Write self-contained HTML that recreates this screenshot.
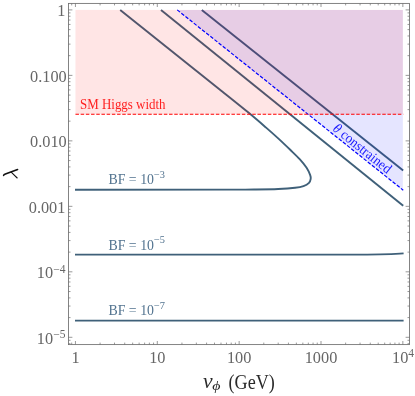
<!DOCTYPE html>
<html><head><meta charset="utf-8"><title>plot</title>
<style>html,body{margin:0;padding:0;background:#fff}svg{display:block;will-change:transform}text{font-family:"Liberation Serif",serif}</style>
</head><body>
<svg width="415" height="396" viewBox="0 0 415 396">
<rect width="415" height="396" fill="#fff"/>
<g fill="none" stroke="#3f6079" stroke-width="1.9" stroke-linecap="butt" stroke-linejoin="round">
<path d="M120.2 9.9 L220 89.7  C224.68 93.47 240.42 105.98 248.10 112.30 C255.78 118.62 261.08 123.25 266.10 127.60 C271.12 131.95 274.18 134.70 278.20 138.40 C282.22 142.10 286.58 146.30 290.20 149.80 C293.82 153.30 297.17 156.40 299.90 159.40 C302.63 162.40 304.88 165.18 306.60 167.80 C308.32 170.42 309.52 173.25 310.20 175.10 C310.88 176.95 310.90 177.62 310.70 178.90 C310.50 180.18 310.20 181.60 309.00 182.80 C307.80 184.00 305.82 185.27 303.50 186.10 C301.18 186.93 299.32 187.32 295.10 187.80 C290.88 188.28 285.03 188.72 278.20 189.00 C271.37 189.28 262.13 189.39 254.10 189.50 C246.07 189.61 234.02 189.62 230.00 189.65 L75.0 189.7"/>
<path d="M161 9.9 L403.2 205.7"/>
<path d="M201.8 9.9 L403.2 170.5"/>
<path d="M75.0 254.6 L360 254.6 Q390 254.5 403.6 253.4"/>
<path d="M75.0 320.6 L403.6 320.6"/>
</g>
<path d="M177.20 9.90 L402.85 9.90 L402.85 190.20 Z" fill="#0000ff" fill-opacity="0.1"/>
<rect x="75.45" y="9.90" width="327.40" height="104.30" fill="#ff0000" fill-opacity="0.1"/>
<path d="M177.20 9.90 L403.25 190.20" stroke="#0000ff" stroke-width="1.2" stroke-dasharray="3.6 1.7" fill="none"/>
<path d="M75.45 114.20 L403.25 114.20" stroke="#ff0000" stroke-width="1.15" stroke-dasharray="3.5 1.7" fill="none"/>
<g stroke="#6e6e6e" stroke-width="0.85" fill="none">
<rect x="68.50" y="3.40" width="341.00" height="341.20"/>
</g>
<g stroke="#6e6e6e" stroke-width="0.7" fill="none">
<path d="M71.70 344.60 v-2.00 M71.70 3.40 v2.00 M75.45 344.60 v-3.60 M75.45 3.40 v3.60 M100.09 344.60 v-2.00 M100.09 3.40 v2.00 M114.50 344.60 v-2.00 M114.50 3.40 v2.00 M124.73 344.60 v-2.00 M124.73 3.40 v2.00 M132.66 344.60 v-2.00 M132.66 3.40 v2.00 M139.14 344.60 v-2.00 M139.14 3.40 v2.00 M144.62 344.60 v-2.00 M144.62 3.40 v2.00 M149.37 344.60 v-2.00 M149.37 3.40 v2.00 M153.55 344.60 v-2.00 M153.55 3.40 v2.00 M157.30 344.60 v-3.60 M157.30 3.40 v3.60 M181.94 344.60 v-2.00 M181.94 3.40 v2.00 M196.35 344.60 v-2.00 M196.35 3.40 v2.00 M206.58 344.60 v-2.00 M206.58 3.40 v2.00 M214.51 344.60 v-2.00 M214.51 3.40 v2.00 M220.99 344.60 v-2.00 M220.99 3.40 v2.00 M226.47 344.60 v-2.00 M226.47 3.40 v2.00 M231.22 344.60 v-2.00 M231.22 3.40 v2.00 M235.40 344.60 v-2.00 M235.40 3.40 v2.00 M239.15 344.60 v-3.60 M239.15 3.40 v3.60 M263.79 344.60 v-2.00 M263.79 3.40 v2.00 M278.20 344.60 v-2.00 M278.20 3.40 v2.00 M288.43 344.60 v-2.00 M288.43 3.40 v2.00 M296.36 344.60 v-2.00 M296.36 3.40 v2.00 M302.84 344.60 v-2.00 M302.84 3.40 v2.00 M308.32 344.60 v-2.00 M308.32 3.40 v2.00 M313.07 344.60 v-2.00 M313.07 3.40 v2.00 M317.25 344.60 v-2.00 M317.25 3.40 v2.00 M321.00 344.60 v-3.60 M321.00 3.40 v3.60 M345.64 344.60 v-2.00 M345.64 3.40 v2.00 M360.05 344.60 v-2.00 M360.05 3.40 v2.00 M370.28 344.60 v-2.00 M370.28 3.40 v2.00 M378.21 344.60 v-2.00 M378.21 3.40 v2.00 M384.69 344.60 v-2.00 M384.69 3.40 v2.00 M390.17 344.60 v-2.00 M390.17 3.40 v2.00 M394.92 344.60 v-2.00 M394.92 3.40 v2.00 M399.10 344.60 v-2.00 M399.10 3.40 v2.00 M402.85 344.60 v-3.60 M402.85 3.40 v3.60 "/>
<path d="M68.50 343.65 h2.00 M409.50 343.65 h-2.00 M68.50 340.30 h2.00 M409.50 340.30 h-2.00 M68.50 337.30 h3.90 M409.50 337.30 h-3.90 M68.50 317.59 h2.00 M409.50 317.59 h-2.00 M68.50 306.06 h2.00 M409.50 306.06 h-2.00 M68.50 297.88 h2.00 M409.50 297.88 h-2.00 M68.50 291.53 h2.00 M409.50 291.53 h-2.00 M68.50 286.35 h2.00 M409.50 286.35 h-2.00 M68.50 281.96 h2.00 M409.50 281.96 h-2.00 M68.50 278.17 h2.00 M409.50 278.17 h-2.00 M68.50 274.82 h2.00 M409.50 274.82 h-2.00 M68.50 271.82 h3.90 M409.50 271.82 h-3.90 M68.50 252.11 h2.00 M409.50 252.11 h-2.00 M68.50 240.58 h2.00 M409.50 240.58 h-2.00 M68.50 232.40 h2.00 M409.50 232.40 h-2.00 M68.50 226.05 h2.00 M409.50 226.05 h-2.00 M68.50 220.87 h2.00 M409.50 220.87 h-2.00 M68.50 216.48 h2.00 M409.50 216.48 h-2.00 M68.50 212.69 h2.00 M409.50 212.69 h-2.00 M68.50 209.34 h2.00 M409.50 209.34 h-2.00 M68.50 206.34 h3.90 M409.50 206.34 h-3.90 M68.50 186.63 h2.00 M409.50 186.63 h-2.00 M68.50 175.10 h2.00 M409.50 175.10 h-2.00 M68.50 166.92 h2.00 M409.50 166.92 h-2.00 M68.50 160.57 h2.00 M409.50 160.57 h-2.00 M68.50 155.39 h2.00 M409.50 155.39 h-2.00 M68.50 151.00 h2.00 M409.50 151.00 h-2.00 M68.50 147.21 h2.00 M409.50 147.21 h-2.00 M68.50 143.86 h2.00 M409.50 143.86 h-2.00 M68.50 140.86 h3.90 M409.50 140.86 h-3.90 M68.50 121.15 h2.00 M409.50 121.15 h-2.00 M68.50 109.62 h2.00 M409.50 109.62 h-2.00 M68.50 101.44 h2.00 M409.50 101.44 h-2.00 M68.50 95.09 h2.00 M409.50 95.09 h-2.00 M68.50 89.91 h2.00 M409.50 89.91 h-2.00 M68.50 85.52 h2.00 M409.50 85.52 h-2.00 M68.50 81.73 h2.00 M409.50 81.73 h-2.00 M68.50 78.38 h2.00 M409.50 78.38 h-2.00 M68.50 75.38 h3.90 M409.50 75.38 h-3.90 M68.50 55.67 h2.00 M409.50 55.67 h-2.00 M68.50 44.14 h2.00 M409.50 44.14 h-2.00 M68.50 35.96 h2.00 M409.50 35.96 h-2.00 M68.50 29.61 h2.00 M409.50 29.61 h-2.00 M68.50 24.43 h2.00 M409.50 24.43 h-2.00 M68.50 20.04 h2.00 M409.50 20.04 h-2.00 M68.50 16.25 h2.00 M409.50 16.25 h-2.00 M68.50 12.90 h2.00 M409.50 12.90 h-2.00 M68.50 9.90 h3.90 M409.50 9.90 h-3.90 "/>
</g>
<g fill="#666" font-size="16.3">
<text x="65.40" y="16.20" text-anchor="end">1</text>
<text x="66.70" y="81.68" text-anchor="end">0.100</text>
<text x="66.70" y="147.16" text-anchor="end">0.010</text>
<text x="65.40" y="212.64" text-anchor="end">0.001</text>
<text x="65.40" y="278.12" text-anchor="end">10<tspan font-size="11.5" dy="-5.6">−4</tspan></text>
<text x="65.40" y="343.70" text-anchor="end">10<tspan font-size="11.5" dy="-5.6">−5</tspan></text>
<text x="75.45" y="362.5" text-anchor="middle">1</text>
<text x="157.30" y="362.5" text-anchor="middle">10</text>
<text x="239.15" y="362.5" text-anchor="middle">100</text>
<text x="321.00" y="362.5" text-anchor="middle">1000</text>
<text x="403.05" y="362.50" text-anchor="middle">10<tspan font-size="11.5" dy="-5.6">4</tspan></text>
</g>
<text x="80.1" y="109.1" font-size="14.8" fill="#ff2020" textLength="85.4" lengthAdjust="spacingAndGlyphs">SM Higgs width</text>
<text x="108.5" y="184.00" font-size="14" fill="#52738f" textLength="56.5" lengthAdjust="spacingAndGlyphs">BF = 10<tspan font-size="10.5" dy="-6.2">−3</tspan></text>
<text x="108.5" y="249.60" font-size="14" fill="#52738f" textLength="56.5" lengthAdjust="spacingAndGlyphs">BF = 10<tspan font-size="10.5" dy="-6.2">−5</tspan></text>
<text x="108.5" y="315.30" font-size="14" fill="#52738f" textLength="56.5" lengthAdjust="spacingAndGlyphs">BF = 10<tspan font-size="10.5" dy="-6.2">−7</tspan></text>
<text transform="translate(332.0 130.1) rotate(38.63)" font-size="14.1" fill="#1a1aff" textLength="70.5" lengthAdjust="spacingAndGlyphs"><tspan font-style="italic">θ</tspan> constrained</text>
<path d="M3.6 175.4 Q3.8 174.6 5.4 174.0 L17.6 169.5" stroke="#111" stroke-width="1.55" fill="none" stroke-linecap="round"/><path d="M11.2 172.2 L17.2 178.0" stroke="#111" stroke-width="1.05" fill="none" stroke-linecap="round"/>
<text x="203.0" y="388.2" font-size="21" font-style="italic" fill="#2a2a2a" textLength="9.6" lengthAdjust="spacingAndGlyphs">v</text>
<text x="212.2" y="390.4" font-size="11.5" font-style="italic" fill="#2a2a2a" textLength="8.2" lengthAdjust="spacingAndGlyphs">ϕ</text>
<text x="228.6" y="388.6" font-size="21" fill="#2a2a2a" textLength="46.2" lengthAdjust="spacingAndGlyphs">(GeV)</text>
</svg>
</body></html>
